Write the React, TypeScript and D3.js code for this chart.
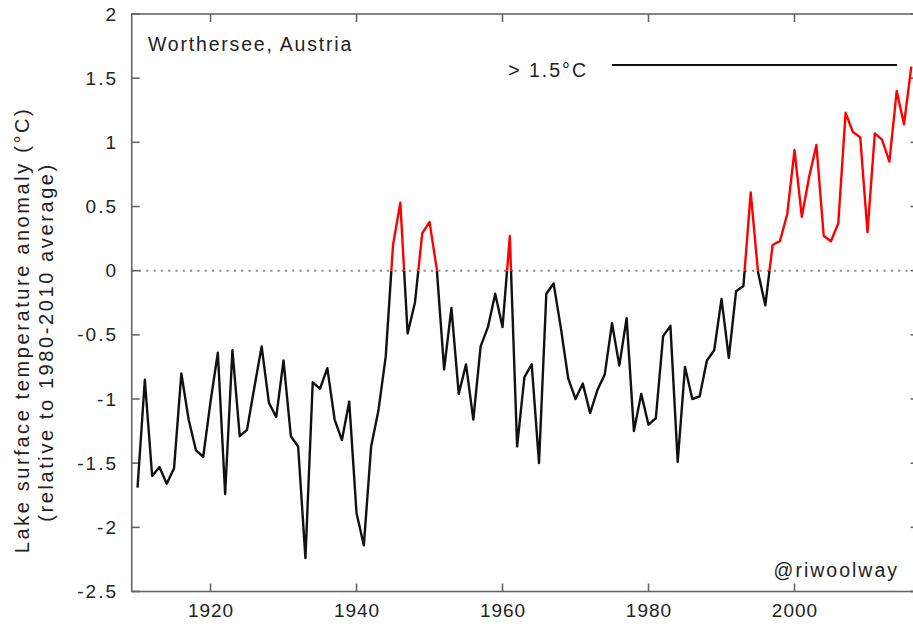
import React from "react";
import * as d3 from "d3";

const years: number[] = d3.range(1910, 2017);
const anomaly: number[] = [
  -1.69, -0.85, -1.6, -1.53, -1.66, -1.54, -0.8, -1.16, -1.4, -1.45,
  -1.02, -0.64, -1.74, -0.62, -1.29, -1.24, -0.91, -0.59, -1.03, -1.14,
  -0.7, -1.29, -1.37, -2.24, -0.87, -0.92, -0.76, -1.16, -1.32, -1.02,
  -1.89, -2.14, -1.37, -1.09, -0.67, 0.2, 0.53, -0.49, -0.25, 0.29,
  0.38, 0.01, -0.77, -0.29, -0.96, -0.73, -1.16, -0.59, -0.44, -0.18,
  -0.44, 0.27, -1.37, -0.83, -0.73, -1.5, -0.18, -0.1, -0.45, -0.84,
  -1.0, -0.88, -1.11, -0.93, -0.81, -0.41, -0.74, -0.37, -1.25, -0.96,
  -1.2, -1.15, -0.51, -0.43, -1.49, -0.75, -1.0, -0.98, -0.7, -0.62,
  -0.22, -0.68, -0.16, -0.12, 0.61, -0.01, -0.27, 0.2, 0.23, 0.44,
  0.94, 0.42, 0.73, 0.98, 0.27, 0.23, 0.37, 1.23, 1.08, 1.04,
  0.3, 1.07, 1.02, 0.85, 1.4, 1.14, 1.59,
];
const yTicks: number[] = [2, 1.5, 1, 0.5, 0, -0.5, -1, -1.5, -2, -2.5];
const yTickLabels: string[] = ["2", "1.5", "1", "0.5", "0", "-0.5", "-1", "-1.5", "-2", "-2.5"];
const xTicks: number[] = [1920, 1940, 1960, 1980, 2000];
const xTickLabels: string[] = ["1920", "1940", "1960", "1980", "2000"];
const titleText = "Worthersee, Austria";
const keyText = "> 1.5°C";
const creditText = "@riwoolway";
const yLabel1 = "Lake surface temperature anomaly  (°C)";
const yLabel2 = "(relative to 1980-2010 average)";

const W = 913;
const H = 628;
const L = 131.7;
const R = 918.6;
const T = 14;
const B = 591.5;

export default function App() {
  const x = d3.scaleLinear().domain([1909.2, 2017]).range([L, R]);
  const y = d3.scaleLinear().domain([-2.5, 2]).range([B, T]);
  const pts: [number, number][] = years.map((yr, i) => [yr, anomaly[i]]);
  const line = d3
    .line<[number, number]>()
    .x((d) => x(d[0]))
    .y((d) => y(d[1]));
  const path = line(pts) || "";
  const y0 = y(0);
  const font = "'Liberation Sans', Arial, Helvetica, sans-serif";
  const axisColor = "#666";
  const textColor = "#222";
  const tl = 8;

  return (
    <svg
      width={W}
      height={H}
      style={{ position: "absolute", left: 0, top: 0, background: "#fff" }}
      fontFamily={font}
    >
      <defs>
        <clipPath id="above">
          <rect x={0} y={0} width={W} height={y0} />
        </clipPath>
        <clipPath id="below">
          <rect x={0} y={y0} width={W} height={H - y0} />
        </clipPath>
      </defs>
      <rect x={0} y={0} width={W} height={H} fill="#fff" />
      <line
        x1={L}
        x2={R}
        y1={y0}
        y2={y0}
        stroke="#888"
        strokeWidth={2}
        strokeDasharray="2 5.3"
      />
      <rect x={L} y={T} width={R - L} height={B - T} fill="none" stroke={axisColor} strokeWidth={1.6} />
      {yTicks.map((v) => (
        <g key={"yt" + v}>
          <line x1={L} x2={L + tl} y1={y(v)} y2={y(v)} stroke={axisColor} strokeWidth={1.6} />
          <line x1={R} x2={R - tl} y1={y(v)} y2={y(v)} stroke={axisColor} strokeWidth={1.6} />
        </g>
      ))}
      {xTicks.map((v) => (
        <g key={"xt" + v}>
          <line x1={x(v)} x2={x(v)} y1={B} y2={B - tl} stroke={axisColor} strokeWidth={1.6} />
          <line x1={x(v)} x2={x(v)} y1={T} y2={T + tl} stroke={axisColor} strokeWidth={1.6} />
        </g>
      ))}
      {yTicks.map((v, i) => (
        <text
          key={"yl" + v}
          x={118}
          y={y(v)}
          textAnchor="end"
          dominantBaseline="central"
          fontSize={19}
          letterSpacing={2}
          fill={textColor}
        >
          {yTickLabels[i]}
        </text>
      ))}
      {xTicks.map((v, i) => (
        <text
          key={"xl" + v}
          x={x(v) + 0.5}
          y={610}
          textAnchor="middle"
          dominantBaseline="central"
          fontSize={19}
          letterSpacing={1}
          fill={textColor}
        >
          {xTickLabels[i]}
        </text>
      ))}
      <path d={path} fill="none" stroke="#111" strokeWidth={2.4} clipPath="url(#below)" strokeLinejoin="round" />
      <path d={path} fill="none" stroke="#ff0000" strokeWidth={2.4} clipPath="url(#above)" strokeLinejoin="round" />
      <text x={148} y={44} dominantBaseline="central" fontSize={19.5} letterSpacing={1.8} fill={textColor}>
        {titleText}
      </text>
      <text x={588} y={70} textAnchor="end" dominantBaseline="central" fontSize={19.5} letterSpacing={2} fill={textColor}>
        {keyText}
      </text>
      <line x1={612} x2={897} y1={65} y2={65} stroke="#111" strokeWidth={2.2} />
      <text x={899} y={570} textAnchor="end" dominantBaseline="central" fontSize={19.5} letterSpacing={2} fill={textColor}>
        {creditText}
      </text>
      <text
        transform={`translate(22,330) rotate(-90)`}
        textAnchor="middle"
        dominantBaseline="central"
        fontSize={20}
        letterSpacing={2.6}
        fill={textColor}
      >
        {yLabel1}
      </text>
      <text
        transform={`translate(46,342) rotate(-90)`}
        textAnchor="middle"
        dominantBaseline="central"
        fontSize={20}
        letterSpacing={2.6}
        fill={textColor}
      >
        {yLabel2}
      </text>
    </svg>
  );
}
